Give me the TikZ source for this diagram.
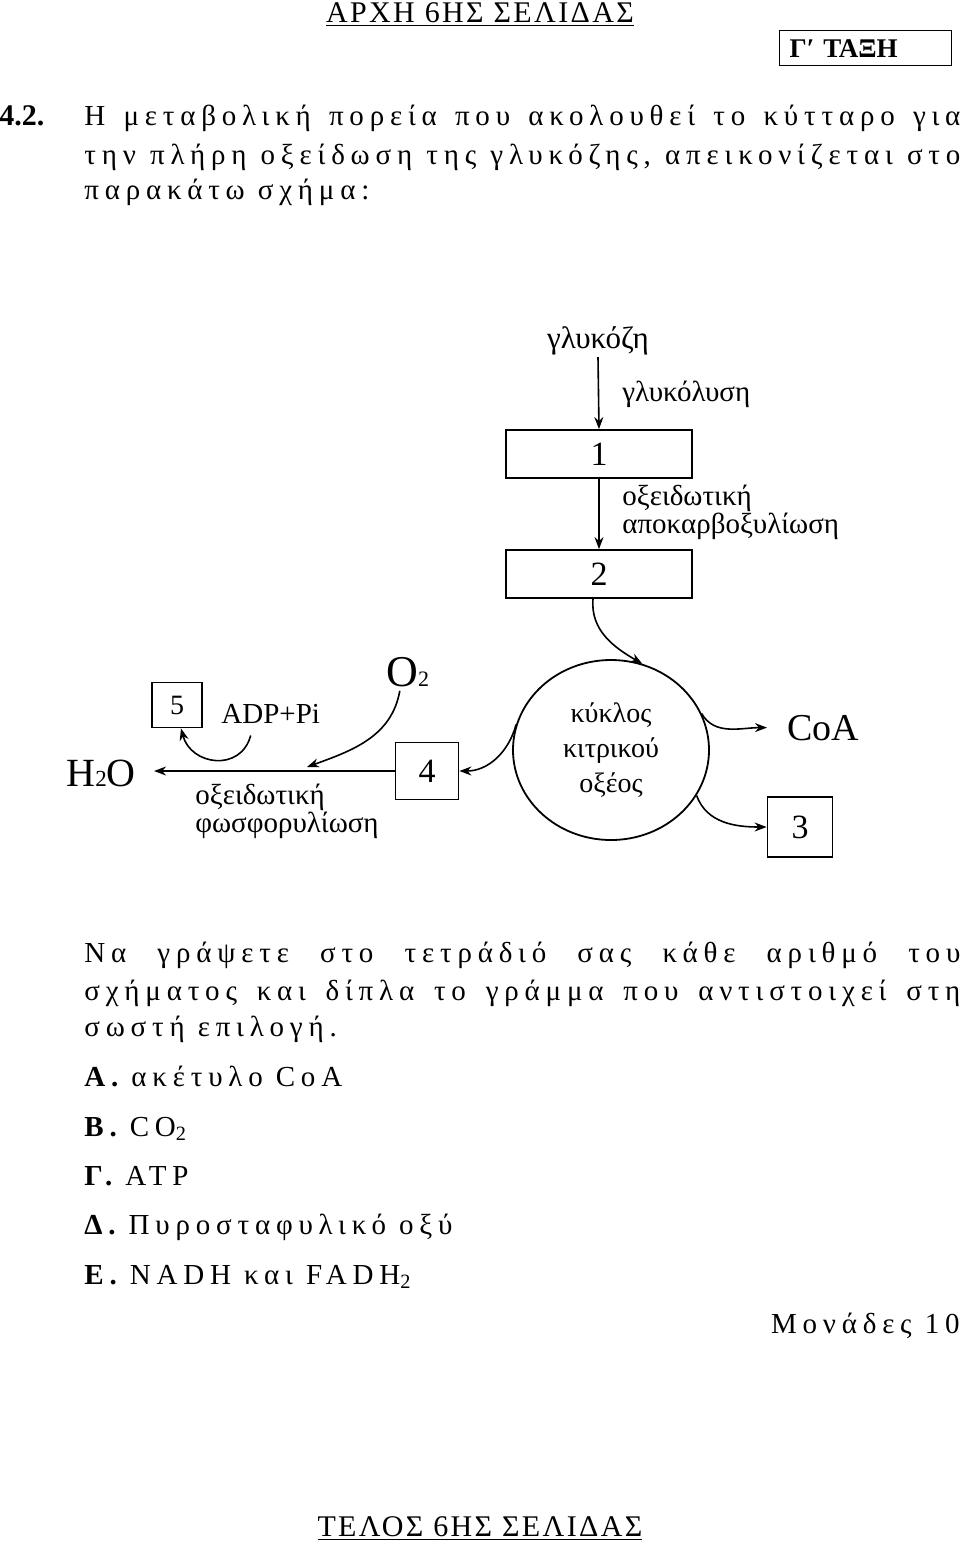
\documentclass[tikz,border=0pt]{standalone}
\usepackage{fontspec}
\usepackage{tikz}
\setmainfont{Liberation Serif}
\newfontfamily\spaced[LetterSpace=20]{Liberation Serif}
\newfontfamily\wide[LetterSpace=8]{Liberation Serif}
\usetikzlibrary{arrows.meta,shapes.geometric}

\begin{document}
\begin{tikzpicture}[x=0.5pt, y=0.5pt, >={Stealth[length=6pt,width=4.5pt]},
    txt/.style={anchor=base west, inner sep=0pt, font=\fontsize{14.5}{17}\spaced},
    lbl/.style={anchor=base, inner sep=1pt, font=\fontsize{14.5}{17}\selectfont},
    numbox/.style={draw, line width=0.9pt, rectangle, inner sep=0pt, font=\fontsize{17}{20}\selectfont},
    flow/.style={->, line width=0.8pt}]
    \useasboundingbox (0,0) rectangle (960,-1544);

    % page header
    \node (head) [anchor=base, inner sep=0pt, font=\fontsize{15}{18}\wide] at (480,-22) {\underline{ΑΡΧΗ 6ΗΣ ΣΕΛΙΔΑΣ}};
    \node (class) [draw, line width=0.6pt, anchor=north west, minimum width=84.5pt, minimum height=17.5pt, text width=76pt, align=left, inner xsep=5pt, font=\fontsize{13.5}{15}\bfseries] at (779,-30) {Γ′ ΤΑΞΗ};

    % question
    \node (qnum) [anchor=base west, inner sep=0pt, font=\fontsize{15}{17}\bfseries] at (-1,-125) {4.2.};
    \node (q1) [txt] at (84,-125) {\makebox[438pt][s]{Η μεταβολική πορεία που ακολουθεί το κύτταρο για}};
    \node (q2) [txt] at (84,-164) {\makebox[438pt][s]{την πλήρη οξείδωση της γλυκόζης, απεικονίζεται στο}};
    \node (q3) [txt] at (84,-199) {παρακάτω σχήμα:};

    % diagram
    \node (glc) [lbl, font=\fontsize{15.5}{18}\selectfont] at (598,-348) {γλυκόζη};
    \node (b1) [numbox, minimum width=93pt, minimum height=24pt] at (599,-454) {1};
    \node (b2) [numbox, minimum width=93pt, minimum height=24pt] at (599,-574) {2};
    \node (gly) [lbl, anchor=base west] at (620,-401) {γλυκόλυση};
    \node (oxd1) [lbl, anchor=base west] at (620,-505) {οξειδωτική};
    \node (oxd2) [lbl, anchor=base west] at (620,-533) {αποκαρβοξυλίωση};

    \node (krebs) [draw, ellipse, line width=0.9pt, minimum width=98pt, minimum height=90pt, inner sep=0pt, align=center, font=\fontsize{14}{17.5}\selectfont] at (611,-750) {κύκλος\\κιτρικού\\οξέος};

    \node (coa) [anchor=base west, inner sep=0pt, font=\fontsize{19}{22}\selectfont] at (787,-740) {CoA};
    \node (b3) [numbox, minimum width=32.5pt, minimum height=30pt] at (800,-827) {3};
    \node (b4) [numbox, minimum width=31.5pt, minimum height=28.5pt] at (427,-771) {4};
    \node (b5) [numbox, minimum width=25pt, minimum height=22.5pt, font=\fontsize{14}{16}\selectfont] at (177,-705) {5};
    \node (adp) [anchor=base west, inner sep=0pt, font=\fontsize{14.5}{17}\selectfont] at (221,-723) {ADP+Pi};
    \node (o2) [anchor=base west, inner sep=0pt, font=\fontsize{22}{26}\selectfont] at (386,-686) {O{\fontsize{11}{13}\selectfont 2}};
    \node (h2o) [anchor=base west, inner sep=0pt, font=\fontsize{20}{23}\selectfont] at (66,-786) {H{\fontsize{11.5}{13}\selectfont 2}O};
    \node (oxp1) [lbl, anchor=base west] at (193,-804) {οξειδωτική};
    \node (oxp2) [lbl, anchor=base west] at (193,-832) {φωσφορυλίωση};
    \coordinate (join) at (307,-767);

    \draw[flow] (glc.south) -- (b1.north);
    \draw[flow] (b1.south) -- (b2.north);
    \draw[flow] ([xshift=-3pt]b2.south) to[out=-95,in=150] (krebs.70);
    \draw[flow] (krebs.165) to[out=-105,in=0] (b4.east);
    \draw[flow] (krebs.22) to[out=-60,in=180] ([xshift=-10pt]coa.west);
    \draw[flow] (krebs.-28) to[out=-70,in=180] (b3.west);
    \draw[flow, shorten >=9pt] (b4.west) -- (b4.west -| h2o.east);
    \draw[flow] ([xshift=-4pt,yshift=-2pt]o2.south) to[out=-100,in=20] (join);
    \draw[flow] ([xshift=-10pt,yshift=-6pt]adp.south) to[out=-105,in=-75,looseness=1.4] ([xshift=2pt]b5.south);

    % instructions
    \node (n1) [txt] at (84,-962) {\makebox[438pt][s]{Να γράψετε στο τετράδιό σας κάθε αριθμό του}};
    \node (n2) [txt] at (84,-1000) {\makebox[438pt][s]{σχήματος και δίπλα το γράμμα που αντιστοιχεί στη}};
    \node (n3) [txt] at (84,-1036) {σωστή επιλογή.};
    \node (optA) [txt] at (84,-1086) {{\bfseries Α.} ακέτυλο CoA};
    \node (optB) [txt] at (84,-1136) {{\bfseries Β.} CO\textsubscript{2}};
    \node (optC) [txt] at (84,-1185) {{\bfseries Γ.} ATP};
    \node (optD) [txt] at (84,-1234) {{\bfseries Δ.} Πυροσταφυλικό οξύ};
    \node (optE) [txt] at (84,-1284) {{\bfseries Ε.} NADH και FADH\textsubscript{2}};
    \node (marks) [anchor=base east, inner sep=0pt, font=\fontsize{14.5}{17}\spaced] at (960,-1333) {Μονάδες 10};

    % page footer
    \node (foot) [anchor=base, inner sep=0pt, font=\fontsize{15}{18}\wide] at (480,-1536) {\underline{ΤΕΛΟΣ 6ΗΣ ΣΕΛΙΔΑΣ}};
\end{tikzpicture}
\end{document}
